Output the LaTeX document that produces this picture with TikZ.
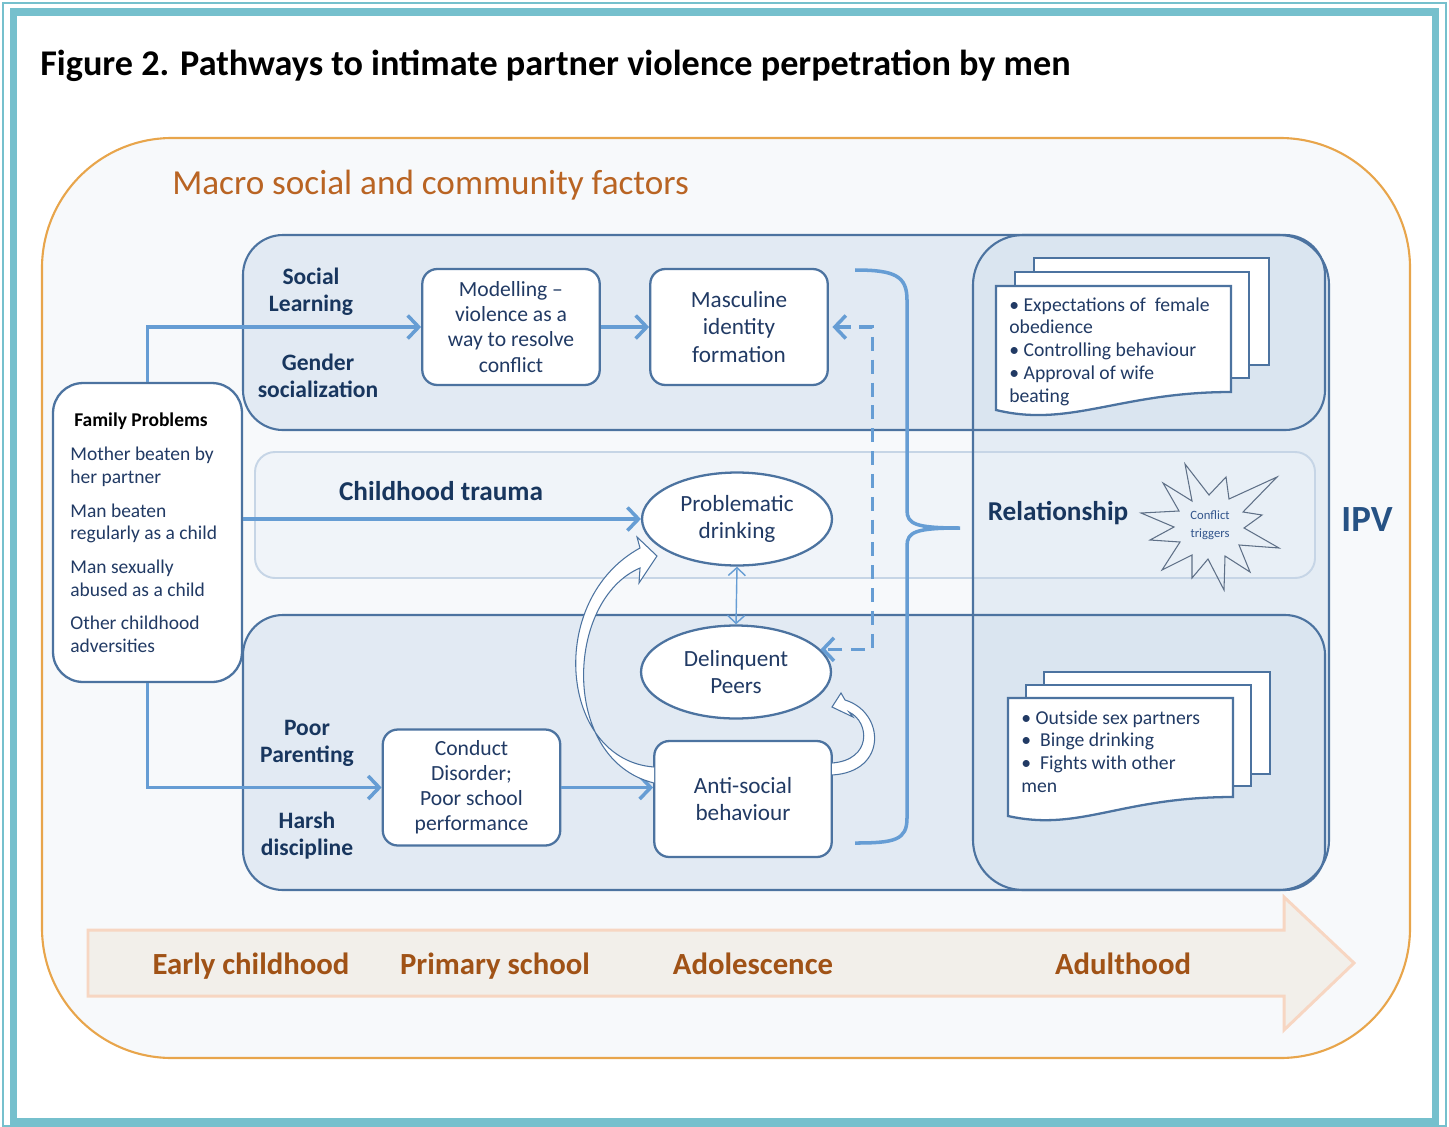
\documentclass[tikz,border=0pt]{standalone}
\usepackage{fontspec}
\setmainfont{Carlito}
\usetikzlibrary{shapes.geometric, positioning, arrows.meta}

\definecolor{tealframe}{RGB}{118,192,205}
\definecolor{macroline}{RGB}{232,165,75}
\definecolor{macrotext}{RGB}{185,100,35}
\definecolor{pagebg}{RGB}{247,249,251}
\definecolor{bandfill}{RGB}{212,225,238}
\definecolor{colfill}{RGB}{228,236,244}
\definecolor{midfill}{RGB}{236,242,248}
\definecolor{midline}{RGB}{198,213,230}
\definecolor{boxline}{RGB}{76,115,160}
\definecolor{arrowblue}{RGB}{102,157,212}
\definecolor{navy}{RGB}{24,54,94}
\definecolor{ipvblue}{RGB}{38,82,132}
\definecolor{boxtext}{RGB}{33,58,100}
\definecolor{stagefill}{RGB}{242,239,234}
\definecolor{stageline}{RGB}{247,214,194}
\definecolor{stagetext}{RGB}{160,82,22}
\definecolor{burstline}{RGB}{95,112,135}
\definecolor{bursttext}{RGB}{50,85,140}

\begin{document}
\begin{tikzpicture}[x=0.02cm, y=-0.02cm,
  box/.style={draw=boxline, line width=1.3pt, fill=white, rounded corners=0.3cm, align=center,
    text=boxtext, inner sep=0pt, minimum width=3.55cm, minimum height=2.32cm, font=\fontsize{12.3}{14.3}\selectfont},
  oval/.style={ellipse, draw=boxline, line width=1.3pt, fill=white, align=center, text=boxtext,
    inner sep=0pt, minimum width=3.8cm, minimum height=1.86cm, font=\fontsize{13.2}{15.3}\selectfont},
  lab/.style={text=navy, align=center, font=\bfseries\fontsize{13.4}{15.3}\selectfont},
  arr/.style={draw=arrowblue, line width=2pt, -{Straight Barb[length=2.2mm, width=4.6mm]}},
  bandline/.style={draw=boxline, line width=1.2pt},
  page/.style={draw=boxline, line width=1.3pt, fill=white},
  doctext/.style={text=boxtext, align=left, anchor=north west, inner sep=0pt, font=\fontsize{11.2}{13}\selectfont},
  stagelab/.style={text=stagetext, anchor=base, font=\bfseries\fontsize{17.5}{20}\selectfont},
  outline/.style={draw=boxline, line width=0.6pt, fill=white}]
\useasboundingbox (0,0) rectangle (1449,1126);
\draw[tealframe, line width=0.6pt] (3,3) rectangle (1446,1126);
\draw[tealframe, line width=4pt] (13.5,12) rectangle (1435.5,1121);
\node[anchor=west, inner sep=0pt, font=\bfseries\fontsize{20.6}{24}\selectfont] (title) at (40,66) {Figure 2. Pathways to intimate partner violence perpetration by men};

\filldraw[draw=macroline, fill=pagebg, line width=1.2pt, rounded corners=2.6cm] (42,138) rectangle (1410,1058);
\node[anchor=west, inner sep=0pt, text=macrotext, font=\fontsize{20}{22}\selectfont] (macro) at (172,185) {Macro social and community factors};

\filldraw[draw=stageline, fill=stagefill, line width=1.7pt] (88,930) -- (1284,930) -- (1284,897) -- (1354,963) -- (1284,1030) -- (1284,996) -- (88,996) -- cycle;
\node[stagelab] (early) at (251,974) {Early childhood};
\node[stagelab] (primary) at (495,974) {Primary school};
\node[stagelab] (adol) at (753,974) {Adolescence};
\node[stagelab] (adult) at (1123,974) {Adulthood};

\fill[colfill, rounded corners=1cm] (973,235) rectangle (1329,890);
\fill[bandfill, fill opacity=.6, rounded corners=0.8cm] (243,235) rectangle (1325,430);
\fill[bandfill, fill opacity=.6, rounded corners=0.8cm] (243,615) rectangle (1325,890);
\filldraw[draw=midline, fill=midfill, fill opacity=.6, line width=1.1pt, rounded corners=0.4cm] (255,452) rectangle (1315,578);
\draw[bandline, rounded corners=0.8cm] (243,235) rectangle (1325,430);
\draw[bandline, rounded corners=0.8cm] (243,615) rectangle (1325,890);
\draw[bandline, rounded corners=1cm] (973,235) rectangle (1329,890);

\node[lab] (social) at (311,292) {Social\\Learning};
\node[lab] (gender) at (318,376) {Gender\\socialization};
\node[lab] (poor) at (307,743) {Poor\\Parenting};
\node[lab] (harsh) at (307,836) {Harsh\\discipline};
\node[lab, font=\bfseries\fontsize{15.5}{17}\selectfont] (trauma) at (441,491) {Childhood trauma};
\node[lab, font=\bfseries\fontsize{15.5}{17}\selectfont] (rel) at (1058,513) {Relationship};
\node[lab, font=\bfseries\fontsize{21}{23}\selectfont, text=ipvblue] (ipv) at (1367,520) {IPV};

\node[box, minimum width=3.78cm, minimum height=5.98cm, rounded corners=0.6cm] (fam) at (147.5,532.5) {};
\node[text=black, font=\bfseries\fontsize{11.1}{13}\selectfont] (famtitle) at (141,421) {Family Problems};
\node[doctext, font=\fontsize{11.1}{13}\selectfont] (famitems) at (70,447) {Mother beaten by\\her partner\\[6pt]Man beaten\\regularly as a child\\[6pt]Man sexually\\abused as a child\\[6pt]Other childhood\\adversities};

\node[box] (model) at (511,327) {Modelling –\\violence as a\\way to resolve\\conflict};
\node[box, font=\fontsize{13.2}{15.6}\selectfont] (masc) at (739,327) {Masculine\\identity\\formation};
\node[box] (conduct) at (471.5,787.5) {Conduct\\Disorder;\\Poor school\\performance};
\node[box, font=\fontsize{13.2}{15.4}\selectfont] (asb) at (743,799) {Anti-social\\behaviour};
\node[oval] (drink) at (737,519) {Problematic\\drinking};
\node[oval] (peer) at (736,672) {Delinquent\\Peers};

\draw[arr] (fam.north) |- (model.west);
\draw[arr] (model) -- (masc);
\draw[arr] (fam.east |- drink.west) -- (drink.west);
\draw[arr] (fam.south) |- (conduct.west);
\draw[arr] (conduct.east) -- (conduct.east -| asb.west);
\draw[arr, -, dash pattern=on 8pt off 5pt, {Straight Barb[length=2.2mm, width=4.6mm]}-{Straight Barb[length=2.2mm, width=4.6mm]}] ([xshift=2pt]masc.east) -- ++(40,0) |- (peer.15);
\draw[draw=arrowblue, line width=0.8pt, {Straight Barb[length=1.6mm, width=3.4mm]}-{Straight Barb[length=1.6mm, width=3.4mm]}] (drink.south) -- (peer.north);
\draw[draw=arrowblue, line width=2pt] (855,270) .. controls (895,270) and (907,276) .. (907,300) -- (907,510) .. controls (907,524) and (915,528) .. (960,528) .. controls (915,528) and (907,532) .. (907,546) -- (907,818) .. controls (907,840) and (895,843) .. (855,843);

\draw[outline] (654,767) .. controls (560,760) and (545,600) .. (640,548) -- (637,537) -- (657,556) -- (639,583) -- (640,568) .. controls (565,600) and (560,760) .. (654,783);
\draw[outline] (832,775) .. controls (888,772) and (885,712) .. (845,700) -- (841,693) -- (832,707) -- (853,717) -- (849,712) .. controls (870,722) and (872,760) .. (832,763);

\draw[draw=burstline, line width=0.6pt] (1185,464) -- (1209,495) -- (1226,477) -- (1229,499) -- (1277,477) -- (1243,512) -- (1262,515) -- (1244,528) -- (1279,548) -- (1239,545) -- (1250,572) -- (1225,556) -- (1224,590) -- (1208,559) -- (1192,578) -- (1192,555) -- (1162,570) -- (1180,542) -- (1150,540) -- (1174,527) -- (1141,513) -- (1179,511) -- (1163,483) -- (1192,501) -- cycle;
\node[text=bursttext, align=center, font=\fontsize{7.2}{10}\selectfont] (trigger) at (1210,525) {Conflict\\triggers};

\draw[page] (1034,258) rectangle (1269,365);
\draw[page] (1015,272) rectangle (1249,378);
\draw[page] (996,286) -- (1231,286) -- (1231,392) .. controls (1120,392) and (1070,428) .. (996,410) -- cycle;
\node[doctext] (norms) at (1009,297) {• Expectations of~~female\\obedience\\• Controlling behaviour\\• Approval of wife\\beating};

\draw[page] (1044,672) rectangle (1270,774);
\draw[page] (1026,685) rectangle (1251,786);
\draw[page] (1008,698) -- (1233,698) -- (1233,797) .. controls (1120,797) and (1080,832) .. (1008,816) -- cycle;
\node[doctext] (acts) at (1021,710) {• Outside sex partners\\•~~Binge drinking\\•~~Fights with other\\men};
\end{tikzpicture}
\end{document}
